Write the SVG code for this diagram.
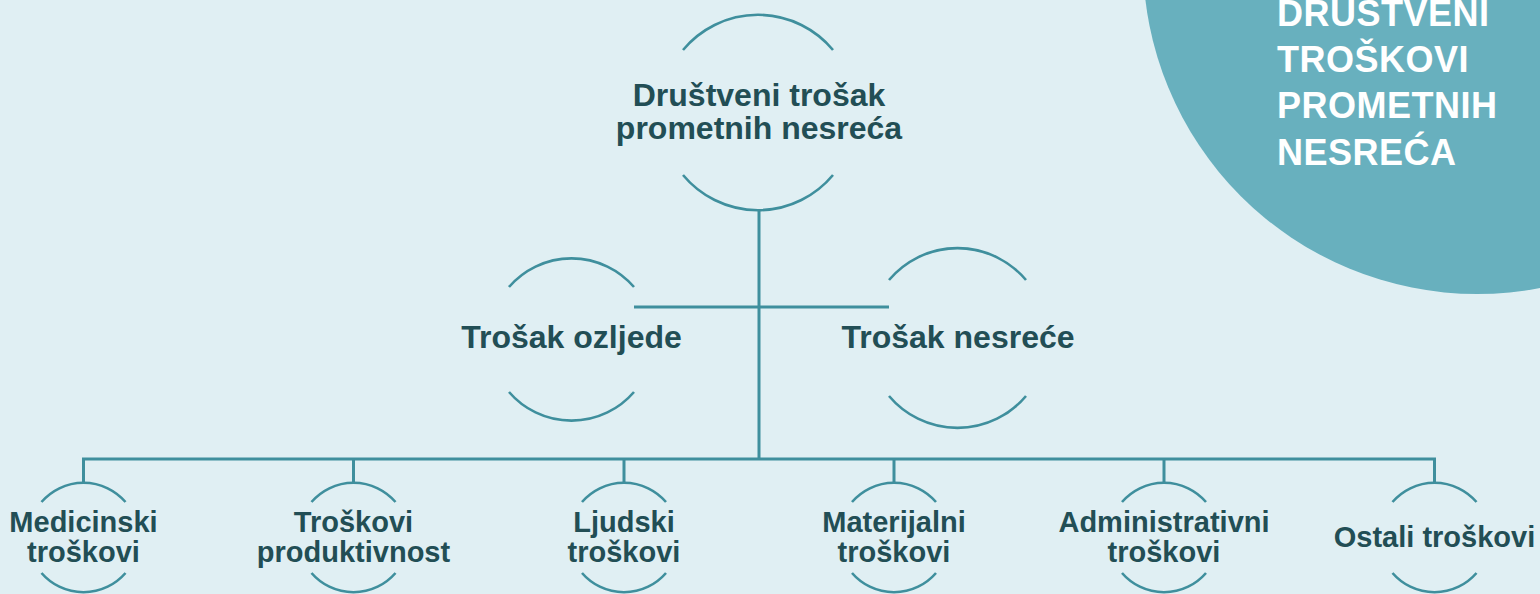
<svg xmlns="http://www.w3.org/2000/svg" width="1540" height="594" viewBox="0 0 1540 594">
<style>
.arc{fill:none;stroke:#3F8F9D;stroke-width:2.6}
.con{fill:none;stroke:#3F8F9D;stroke-width:3}
.t{font-family:"Liberation Sans",Arial,sans-serif;font-weight:bold;fill:#224E55;text-anchor:middle}
.t32{font-size:32px}
.t29{font-size:29px}
.h{font-family:"Liberation Sans",Arial,sans-serif;font-weight:bold;fill:#FFFFFF;font-size:36px;letter-spacing:0.5px}
</style>
<rect width="1540" height="594" fill="#E0EFF3"/>
<g id="title">
<circle cx="1477" cy="-40" r="334" fill="#68B0BE"/>
<text class="h" x="1277" y="26">DRUŠTVENI</text>
<text class="h" x="1277" y="72">TROŠKOVI</text>
<text class="h" x="1277" y="118">PROMETNIH</text>
<text class="h" x="1277" y="165">NESREĆA</text>
</g>
<g id="connectors">
<line class="con" x1="759" y1="210" x2="759" y2="459"/>
<line class="con" x1="634" y1="307" x2="889" y2="307"/>
<polyline class="con" points="83.5,482 83.5,459 1434.5,459 1434.5,482"/>
<line class="con" x1="353.5" y1="459" x2="353.5" y2="482"/>
<line class="con" x1="624" y1="459" x2="624" y2="482"/>
<line class="con" x1="894" y1="459" x2="894" y2="482"/>
<line class="con" x1="1164" y1="459" x2="1164" y2="482"/>
</g>
<g id="node-root">
<path class="arc" d="M683 50 A97.5 97.5 0 0 1 833 50"/>
<path class="arc" d="M683 175 A97.5 97.5 0 0 0 833 175"/>
<text class="t t32" x="759" y="106">Društveni trošak</text>
<text class="t t32" x="759" y="139">prometnih nesreća</text>
</g>
<g id="node-ozljede">
<path class="arc" d="M509 287 A82.5 82.5 0 0 1 634 287"/>
<path class="arc" d="M509 392 A82.5 82.5 0 0 0 634 392"/>
<text class="t t32" x="571.5" y="348">Trošak ozljede</text>
</g>
<g id="node-nesrece">
<path class="arc" d="M889 280 A89.5 89.5 0 0 1 1026 280"/>
<path class="arc" d="M889 396 A89.5 89.5 0 0 0 1026 396"/>
<text class="t t32" x="958" y="348">Trošak nesreće</text>
</g>
<g id="node-medicinski">
<path class="arc" d="M41.5 502 A55.5 55.5 0 0 1 125.5 502"/>
<path class="arc" d="M41.5 573 A55.5 55.5 0 0 0 125.5 573"/>
<text class="t t29" x="83.5" y="532">Medicinski</text>
<text class="t t29" x="83.5" y="562">troškovi</text>
</g>
<g id="node-produktivnost">
<path class="arc" d="M311.5 502 A55.5 55.5 0 0 1 395.5 502"/>
<path class="arc" d="M311.5 573 A55.5 55.5 0 0 0 395.5 573"/>
<text class="t t29" x="353.5" y="532">Troškovi</text>
<text class="t t29" x="353.5" y="562">produktivnost</text>
</g>
<g id="node-ljudski">
<path class="arc" d="M582 502 A55.5 55.5 0 0 1 666 502"/>
<path class="arc" d="M582 573 A55.5 55.5 0 0 0 666 573"/>
<text class="t t29" x="624" y="532">Ljudski</text>
<text class="t t29" x="624" y="562">troškovi</text>
</g>
<g id="node-materijalni">
<path class="arc" d="M852 502 A55.5 55.5 0 0 1 936 502"/>
<path class="arc" d="M852 573 A55.5 55.5 0 0 0 936 573"/>
<text class="t t29" x="894" y="532">Materijalni</text>
<text class="t t29" x="894" y="562">troškovi</text>
</g>
<g id="node-administrativni">
<path class="arc" d="M1122 502 A55.5 55.5 0 0 1 1206 502"/>
<path class="arc" d="M1122 573 A55.5 55.5 0 0 0 1206 573"/>
<text class="t t29" x="1164" y="532">Administrativni</text>
<text class="t t29" x="1164" y="562">troškovi</text>
</g>
<g id="node-ostali">
<path class="arc" d="M1392.5 502 A55.5 55.5 0 0 1 1476.5 502"/>
<path class="arc" d="M1392.5 573 A55.5 55.5 0 0 0 1476.5 573"/>
<text class="t t29" x="1434.5" y="547">Ostali troškovi</text>
</g>
</svg>
